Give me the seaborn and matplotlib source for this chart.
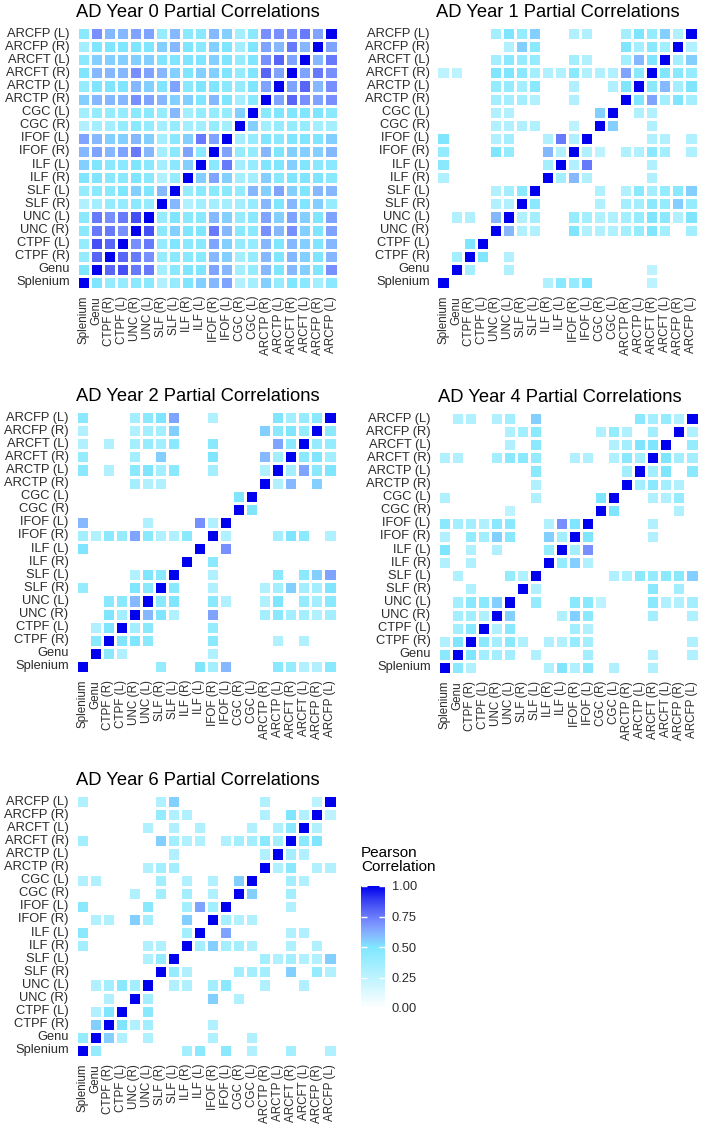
import numpy as np
import matplotlib
matplotlib.use("Agg")
import matplotlib.pyplot as plt
from matplotlib.colors import LinearSegmentedColormap
import seaborn as sns

na = np.nan

tracts = ["Splenium", "Genu", "CTPF (R)", "CTPF (L)", "UNC (R)", "UNC (L)",
          "SLF (R)", "SLF (L)", "ILF (R)", "ILF (L)", "IFOF (R)", "IFOF (L)",
          "CGC (R)", "CGC (L)", "ARCTP (R)", "ARCTP (L)", "ARCFT (R)", "ARCFT (L)",
          "ARCFP (R)", "ARCFP (L)"]

# lower triangle, row i = correlations of tract i with tracts 0..i-1 (blank = not shown)
year0 = [
    [],
    [.50],
    [.40, .80],
    [.40, .85, .80],
    [.45, .75, .75, .70],
    [.45, .75, .70, .75, .85],
    [.30, .35, .40, .40, .45, .40],
    [.40, .45, .45, .50, .55, .50, .60],
    [.50, .50, .45, .45, .50, .45, .30, .40],
    [.55, .50, .45, .45, .50, .45, .35, .45, .55],
    [.60, .65, .60, .65, .75, .60, .35, .45, .65, .45],
    [.65, .60, .55, .55, .60, .55, .35, .45, .55, .75, .65],
    [.30, .35, .35, .40, .45, .40, .35, .40, .35, .35, .40, .35],
    [.35, .40, .40, .40, .45, .45, .40, .60, .35, .40, .40, .40, .55],
    [.55, .60, .60, .60, .70, .65, .60, .55, .55, .50, .60, .50, .35, .45],
    [.40, .50, .50, .50, .60, .55, .50, .65, .45, .50, .50, .45, .40, .50, .65],
    [.50, .60, .60, .60, .70, .65, .60, .55, .50, .55, .55, .50, .40, .50, .80, .65],
    [.45, .55, .55, .55, .55, .55, .50, .50, .50, .50, .55, .50, .40, .50, .70, .80, .65],
    [.35, .50, .50, .50, .50, .50, .55, .60, .50, .45, .55, .50, .35, .50, .65, .60, .75, .60],
    [.45, .70, .60, .60, .65, .65, .40, .60, .45, .45, .60, .55, .35, .45, .70, .70, .70, .75, .65],
]

year1 = [
    [],
    [na],
    [na, .35],
    [na, na, .50],
    [na, na, na, na],
    [na, .30, .30, na, .60],
    [na, na, na, na, .30, .30],
    [na, na, na, na, .30, .35, .45],
    [.30, na, na, na, na, na, na, na],
    [.45, na, na, na, na, na, na, na, .35],
    [.40, na, na, na, .50, .40, na, na, .60, .30],
    [.50, na, na, na, .30, .35, na, na, .30, .75, .30],
    [na, na, na, na, .30, .30, .30, .30, na, na, .25, na],
    [na, na, na, na, .30, .30, na, na, na, na, na, na, .55],
    [na, na, na, na, .35, .35, .35, .30, na, na, .30, na, na, na],
    [na, na, na, na, .40, .40, .35, .45, na, na, .30, na, na, .30, .50],
    [.25, .25, na, na, .50, .50, .45, .35, .30, .30, .45, .30, .30, .30, .65, .45],
    [na, na, na, na, .35, .45, .40, .40, na, na, .35, .30, na, na, .35, .60, .50],
    [na, na, na, na, na, .30, .55, .45, na, na, na, na, na, na, .50, .35, .45, .35],
    [na, na, na, na, .35, .50, .40, .55, na, na, .30, .30, na, na, .35, .50, .40, .55, .30],
]

year2 = [
    [],
    [na],
    [na, .45],
    [na, .30, .50],
    [na, na, .50, .35],
    [na, na, .45, .45, .60],
    [.40, na, na, na, .50, .45],
    [na, na, na, na, .30, .50, .45],
    [na, na, na, na, na, na, na, na],
    [.50, na, na, na, na, na, na, na, na],
    [.35, .30, .45, .40, .65, .45, .30, .30, .45, na],
    [.60, na, na, na, na, .30, na, na, na, .70, .30],
    [na, na, na, na, na, na, na, na, na, na, na, na],
    [na, na, na, na, na, na, na, na, na, na, na, na, .50],
    [na, na, na, na, .35, .30, .30, na, na, na, na, na, na, na],
    [.45, na, .30, na, .45, .50, .35, .45, na, na, .35, na, na, na, .30],
    [.40, na, na, na, .35, na, .55, na, na, na, .50, na, na, na, .60, .35],
    [.30, na, .30, na, .35, .40, .35, .45, na, na, .45, na, na, na, na, .65, .45],
    [.30, na, na, na, .30, .35, .35, .55, na, na, na, na, na, na, .55, .45, .50, .40],
    [.45, na, na, na, .35, .45, .50, .65, na, na, .30, na, na, na, na, .50, .35, .40, .45],
]

year4 = [
    [],
    [.45],
    [.30, .50],
    [na, .35, .45],
    [na, .35, .35, .30],
    [na, .35, .45, .45, .55],
    [na, na, .30, na, na, na],
    [na, .30, na, na, na, .40, .30],
    [.30, na, .30, na, na, na, na, na],
    [.50, na, .30, na, .30, na, na, na, .40],
    [.30, na, .40, .35, .55, .45, na, na, .55, .35],
    [.45, .35, .35, .30, .45, .45, na, na, .30, .70, .50],
    [na, na, na, na, na, .25, na, na, na, na, na, na],
    [.30, na, na, na, na, na, na, .30, na, na, na, na, .50],
    [na, na, na, na, na, na, na, .30, na, na, na, na, na, na],
    [na, na, na, na, na, na, na, .45, na, na, na, na, na, na, .35],
    [.30, .30, na, na, .35, .45, .45, .40, na, na, .30, .30, na, .30, .45, .35],
    [na, na, na, na, na, .30, na, .45, na, na, na, na, na, .30, .35, .50, .50],
    [na, na, na, na, na, .30, .35, .45, na, na, na, na, .30, .40, .30, na, .35, na],
    [na, .30, .30, na, .30, .35, na, .55, na, na, na, na, na, na, na, .45, .35, .40, .30],
]

year6 = [
    [],
    [.40],
    [na, .55],
    [na, .30, .50],
    [na, na, .30, na],
    [na, .30, .35, .45, .35],
    [na, na, na, na, na, na],
    [na, na, na, na, na, .30, .40],
    [.35, na, na, na, na, .30, .30, na],
    [.45, na, na, na, na, na, na, na, .35],
    [na, .30, .30, na, .55, .35, na, na, .55, na],
    [.45, na, na, na, na, .45, na, na, .35, .65, .35],
    [na, na, na, na, .30, na, .35, na, .35, na, .30, na],
    [.30, .30, na, na, na, na, .35, na, .30, na, .30, na, .55],
    [na, na, na, na, na, .30, .35, .35, na, na, na, na, na, na],
    [na, na, na, na, na, na, na, .30, na, na, na, na, na, na, .30],
    [.35, na, na, na, na, na, .55, .35, .30, .30, na, .30, .35, .35, .45, .35],
    [na, na, na, na, na, .30, na, .30, na, .30, na, na, na, .30, na, .30, .45],
    [na, na, na, na, na, na, .40, .30, .30, na, na, na, na, na, .30, na, .50, .30],
    [.30, na, na, na, na, na, .30, .55, na, na, na, na, na, na, .30, na, na, na, .25],
]

titles = ["AD Year 0 Partial Correlations", "AD Year 1 Partial Correlations",
          "AD Year 2 Partial Correlations", "AD Year 4 Partial Correlations",
          "AD Year 6 Partial Correlations"]
panels = [year0, year1, year2, year4, year6]


def full_matrix(tri):
    n = len(tracts)
    m = np.full((n, n), np.nan)
    np.fill_diagonal(m, 1.0)
    for i, row in enumerate(tri):
        for j, v in enumerate(row):
            m[i, j] = v
            m[j, i] = v
    return m


plt.rcParams['font.family'] = ['Liberation Sans', 'DejaVu Sans']

cmap = LinearSegmentedColormap.from_list("pearson", [
    (0.0, "#ffffff"), (0.25, "#bdf3ff"), (0.4, "#96ecff"), (0.5, "#80e6ff"),
    (0.6, "#86b8ff"), (0.7, "#7890ff"), (0.8, "#5866f8"), (0.9, "#3038f2"),
    (1.0, "#0000ee")])

W, H = 706, 1125
fig = plt.figure(figsize=(W / 100, H / 100), dpi=100)

# panel boxes in pixels: left, top
boxes = [(76.5, 27), (436.5, 27), (75.5, 411), (437.5, 412), (75.5, 795)]
pw, ph = 261, 262

cax = fig.add_axes([361 / W, 1 - 1008 / H, 24 / W, 122 / H])

for k, (tri, title, (lx, ty)) in enumerate(zip(panels, titles, boxes)):
    ax = fig.add_axes([lx / W, 1 - (ty + ph) / H, pw / W, ph / H])
    mat = full_matrix(tri)[::-1, :]
    last = k == len(panels) - 1
    sns.heatmap(mat, ax=ax, cmap=cmap, vmin=0, vmax=1, linewidths=1.0,
                linecolor="white", square=False,
                xticklabels=tracts, yticklabels=tracts[::-1],
                cbar=last, cbar_ax=cax if last else None)
    ax.set_title(title, loc="left", fontsize=13.2, pad=7)
    ax.tick_params(length=0, labelcolor="#2b2b2b")
    ax.tick_params(axis="y", pad=5, labelsize=9.3)
    ax.tick_params(axis="x", pad=5, labelsize=8.4)
    plt.setp(ax.get_xticklabels(), rotation=90)
    plt.setp(ax.get_yticklabels(), rotation=0)

cbar = fig.axes[-1].collections[0].colorbar
cbar.set_ticks([0, 0.25, 0.5, 0.75, 1.0])
cbar.set_ticklabels(["0.00", "0.25", "0.50", "0.75", "1.00"])
cbar.outline.set_visible(False)
cax.tick_params(direction="in", length=4, width=1, color="white",
                left=True, right=True, labelsize=9.3, labelcolor="#2b2b2b", pad=5)

fig.text(361 / W, 1 - 846 / H, "Pearson\nCorrelation", fontsize=11,
         va="top", ha="left", linespacing=1.0)

plt.savefig("out.png", dpi=100)
